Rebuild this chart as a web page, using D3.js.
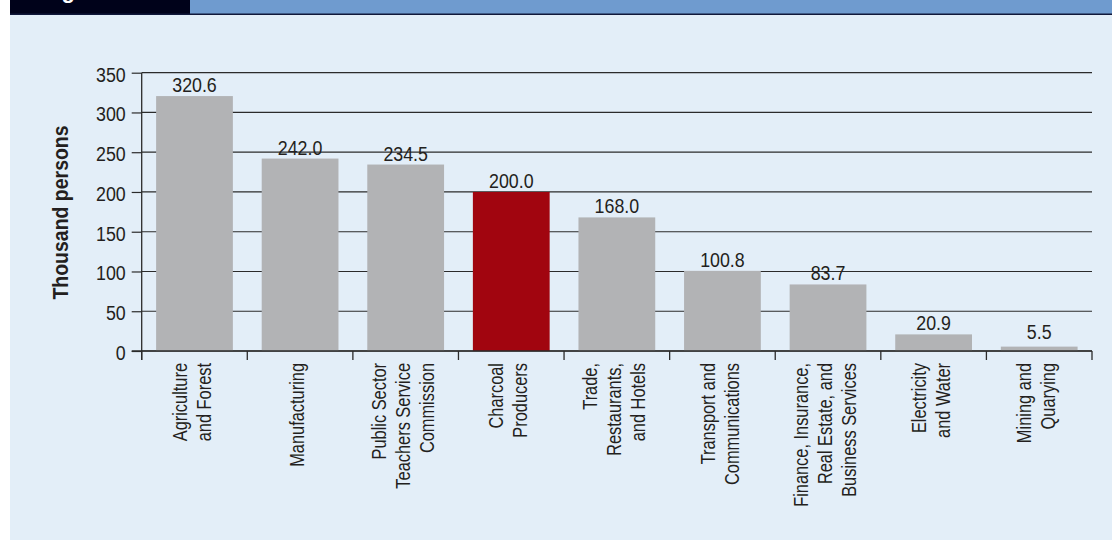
<!DOCTYPE html>
<html>
<head>
<meta charset="utf-8">
<script src="https://cdn.jsdelivr.net/npm/d3@7"></script>
<style>
  html, body { margin: 0; padding: 0; background: #ffffff; }
  svg { display: block; }
  text { font-family: "Liberation Sans", Arial, sans-serif; fill: #231f20; }
</style>
</head>
<body>
<svg id="chart" width="1112" height="542"></svg>
<script>
// ---- data ----
const categories = [
  ["Agriculture", "and Forest"],
  ["Manufacturing"],
  ["Public Sector", "Teachers Service", "Commission"],
  ["Charcoal", "Producers"],
  ["Trade,", "Restaurants,", "and Hotels"],
  ["Transport and", "Communications"],
  ["Finance, Insurance,", "Real Estate, and", "Business Services"],
  ["Electricity", "and Water"],
  ["Mining and", "Quarying"]
];
const values = [320.6, 242.0, 234.5, 200.0, 168.0, 100.8, 83.7, 20.9, 5.5];
const highlighted = ["Charcoal Producers"];
const yTicks = [0, 50, 100, 150, 200, 250, 300, 350];
const yTitle = "Thousand persons";
const headerText = "Figure";

const keys = categories.map(c => c.join(" "));
const data = keys.map((k, i) => ({ key: k, lines: categories[i], value: values[i] }));
const NARROW = 0.82;   // condensed look for category labels
const NARROW_NUM = 0.89; // numbers
const NARROW_TITLE = 0.885;

const svg = d3.select("#chart");

// ---- frame ----
svg.append("rect").attr("x", 10).attr("y", 15).attr("width", 1102).attr("height", 525).attr("fill", "#e3eef8");
svg.append("rect").attr("x", 190).attr("y", 0).attr("width", 922).attr("height", 14).attr("fill", "#6f9bcf");
svg.append("rect").attr("x", 10).attr("y", 0).attr("width", 180).attr("height", 14).attr("fill", "#00021a");
svg.append("rect").attr("x", 10).attr("y", 13.5).attr("width", 1102).attr("height", 1.5).attr("fill", "#10183a");
svg.append("text").attr("x", 42).attr("y", -1.8).text(headerText)
  .style("font-weight", "bold").style("font-size", "22px").style("fill", "#ffffff");

// ---- scales ----
const x0 = 141.7, x1 = 1092;
const pad = 0.273;
const x = d3.scaleBand().domain(keys).range([x0, x1]).paddingInner(pad).paddingOuter(pad / 2);
const y = d3.scaleLinear().domain([0, 350]).range([351, 72.7]);
const step = x.step();

const g = svg.append("g");

// gridlines
g.selectAll("line.grid").data(yTicks).join("line")
  .attr("class", "grid")
  .attr("x1", x0).attr("x2", x1)
  .attr("y1", d => y(d)).attr("y2", d => y(d))
  .attr("stroke", "#2b2b2b").attr("stroke-width", 1.2);

// y axis ticks and labels
const yAxis = d3.axisLeft(y).tickValues(yTicks).tickSize(10).tickPadding(6).tickFormat(d3.format("d"));
const ya = g.append("g").attr("transform", `translate(${x0},0)`).call(yAxis);
ya.select(".domain").remove();
ya.selectAll(".tick line").attr("stroke", "#2b2b2b").attr("stroke-width", 1.2);
ya.selectAll(".tick text")
  .attr("x", -16 / NARROW_NUM)
  .attr("dy", "0.42em")
  .attr("transform", `scale(${NARROW_NUM},1)`)
  .style("font-size", "20px")
  .style("font-family", "'Liberation Sans', Arial, sans-serif")
  .attr("fill", "#231f20");

// bars
g.selectAll("rect.bar").data(data).join("rect")
  .attr("class", "bar")
  .attr("x", d => x(d.key))
  .attr("width", x.bandwidth())
  .attr("y", d => y(d.value))
  .attr("height", d => y(0) - y(d.value))
  .attr("fill", d => highlighted.includes(d.key) ? "#a1050f" : "#b2b3b5");

// y axis line
g.append("line").attr("x1", x0).attr("x2", x0).attr("y1", y(350)).attr("y2", y(0) + 9)
  .attr("stroke", "#2b2b2b").attr("stroke-width", 1.3);
// x axis line
g.append("line").attr("x1", x0 - 10).attr("x2", x1).attr("y1", y(0)).attr("y2", y(0))
  .attr("stroke", "#2b2b2b").attr("stroke-width", 1.6);

// x ticks at category boundaries
const boundaries = keys.map(k => x(k) - step * pad / 2).concat([x(keys[keys.length - 1]) - step * pad / 2 + step]);
g.selectAll("line.xtick").data(boundaries).join("line")
  .attr("class", "xtick")
  .attr("x1", d => d).attr("x2", d => d)
  .attr("y1", y(0)).attr("y2", y(0) + 9)
  .attr("stroke", "#2b2b2b").attr("stroke-width", 1.3);

// value labels
g.selectAll("text.val").data(data).join("text")
  .attr("class", "val")
  .attr("transform", d => `translate(${x(d.key) + x.bandwidth() / 2},${Math.min(y(d.value) - 4, y(0) - 12)}) scale(${NARROW_NUM},1)`)
  .attr("text-anchor", "middle")
  .style("font-size", "20px")
  .text(d => d3.format(".1f")(d.value));

// category labels (rotated, right aligned)
const lh = 24;
const cl = g.selectAll("text.cat").data(data).join("text")
  .attr("class", "cat")
  .attr("text-anchor", "end")
  .style("font-size", "20px")
  .attr("transform", d => `translate(${x(d.key) + x.bandwidth() / 2},363) rotate(-90) scale(${NARROW},1)`);
cl.selectAll("tspan").data(d => d.lines.map((l, i) => ({ l, i, n: d.lines.length }))).join("tspan")
  .attr("x", 0)
  .attr("y", t => 4.2 + (t.i - (t.n - 1) / 2) * lh)
  .text(t => t.l);

// y axis title
svg.append("text")
  .attr("transform", `translate(68,212.5) rotate(-90) scale(${NARROW_TITLE},1)`)
  .attr("text-anchor", "middle")
  .style("font-size", "22px").style("font-weight", "bold")
  .text(yTitle);
</script>
</body>
</html>
